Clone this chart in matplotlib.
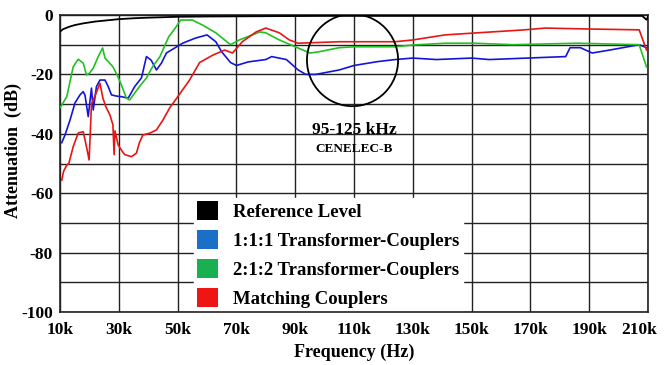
import matplotlib
matplotlib.use("Agg")
import matplotlib.pyplot as plt
from matplotlib.patches import Ellipse, Patch
from matplotlib.transforms import ScaledTranslation
import numpy as np

# ---- data (frequency in kHz, attenuation in dB) ----
ref_f = [10, 11, 13, 15, 18, 22, 26, 30, 35, 40, 50, 60, 80, 100, 150, 200, 208, 209.5, 210]
ref_v = [-5.6, -4.8, -4.0, -3.4, -2.8, -2.2, -1.8, -1.4, -1.1, -0.9, -0.6, -0.5, -0.4, -0.3, -0.3, -0.3, -0.3, -1.6, -0.6]

blue_f = [10.6, 11.7, 13.4, 15.1, 16.8, 17.9, 18.5, 19.6, 20.7, 21.3, 22.4, 23.6, 25.3, 26.4, 27.5, 29.2, 30.9, 33.2,
          35.4, 37.7, 39.4, 41, 42.8, 44.5, 46.2, 51.7, 56, 60, 63, 65, 68, 70, 74, 80, 82, 87, 91, 93.6, 97,
          105, 110, 118, 124, 130, 138, 150, 156, 169, 182, 183.5, 187, 191, 197, 207, 209.5]
blue_v = [-43, -40.4, -35.4, -29.6, -26.9, -25.8, -27, -34.2, -24.6, -32, -24.1, -21.9, -21.9, -24.1, -26.9, -27.3, -27.5, -28,
          -24.1, -21.2, -14, -15.2, -18.5, -16.2, -12.8, -9.5, -7.8, -6.7, -9, -12.4, -16, -17, -15.8, -15, -14, -15, -18.5, -20, -20,
          -18.5, -17, -15.7, -15, -14.5, -15, -14.5, -15, -14.5, -14, -11, -11, -12.8, -11.8, -10, -11]

green_f = [10, 12.3, 14.5, 16.2, 17.9, 19, 20, 21.3, 23, 24.5, 25.3, 26.4, 28, 29.7, 30.9, 32.6, 33.7, 35.4, 37, 39.4,
           41.5, 44, 46, 47, 49.5, 51, 55, 58.5, 63, 68, 71, 78, 80, 84.6, 90, 95, 98, 105, 110, 118,
           124, 130, 141, 151, 164, 186, 207, 209.5]
green_v = [-31.3, -27.5, -17.4, -14.9, -16.2, -20.2, -19.6, -17.9, -14, -11.1, -14.5, -15.7, -17.4, -20.8, -23.6, -28, -28.6, -26.3, -24.1, -21.2,
           -17.4, -14, -9.5, -7.3, -4, -1.7, -1.7, -3.4, -6, -10, -8.4, -5.7, -6, -8.4, -10.7, -12.8, -12.4, -11, -10.7, -10.7,
           -10.7, -10.1, -9.5, -9.5, -10, -9.5, -10, -17.5]

red_f = [10.6, 11.2, 12.3, 13.0, 14.5, 16.2, 17.9, 19, 19.9, 20.3, 20.7, 22, 23.6, 24.6, 25.6, 27, 28, 28.4, 28.7, 29.8,
         30.9, 32, 34.3, 36, 37, 38.2, 40.5, 42.8, 45, 47.3, 49.7, 54, 57.5, 62, 66, 68.7, 72, 76.7, 80, 84.6,
         88, 91, 105, 118, 124, 130, 141, 152, 168, 175, 189, 207, 209.5]
red_v = [-55.6, -52.7, -50.5, -50, -44.3, -39.7, -39.3, -44.3, -48.8, -39.7, -30, -27, -23, -28, -30.9, -33.7, -37, -47, -39, -43.8,
         -45.5, -47, -47.7, -46.5, -43, -40.4, -39.8, -38.7, -35.4, -31.3, -28, -22, -16, -13.5, -11.8, -12.8, -9, -5.7, -4.4, -6,
         -8.4, -9.5, -9, -9, -9, -8.4, -6.7, -6, -5, -4.4, -4.7, -5, -11.8]

x_ticks = [10, 30, 50, 70, 90, 110, 130, 150, 170, 190, 210]
x_labels = ["10k", "30k", "50k", "70k", "90k", "110k", "130k", "150k", "170k", "190k", "210k"]
y_ticks = [-100, -80, -60, -40, -20, 0]
legend_labels = ["Reference Level", "1:1:1 Transformer-Couplers", "2:1:2 Transformer-Couplers", "Matching Couplers"]

# ---- styling ----
serif = ["Liberation Serif", "DejaVu Serif"]
plt.rcParams["font.family"] = serif
plt.rcParams["font.weight"] = "bold"
plt.rcParams["axes.unicode_minus"] = False

fig = plt.figure(figsize=(6.64, 3.65), dpi=100)
ax = fig.add_axes([60 / 664, 1 - 312 / 365, 588 / 664, 297 / 365])

ax.plot(ref_f, ref_v, color="black", lw=1.3, zorder=3)
ax.plot(blue_f, blue_v, color="#1515d8", lw=1.2, zorder=3)
ax.plot(green_f, green_v, color="#22c022", lw=1.2, zorder=3)
ax.plot(red_f, red_v, color="#e81515", lw=1.2, zorder=3)

ax.set_xlim(10, 210)
ax.set_ylim(-100, 0)
ax.set_xticks(x_ticks)
ax.set_xticklabels(x_labels)
ax.set_yticks(y_ticks)
ax.set_yticks(np.arange(-90, 0, 20), minor=True)
ax.grid(True, which="both", color="#222222", lw=1.0, zorder=1)
ax.tick_params(axis="both", which="both", length=0, labelsize=12.5)
ax.tick_params(axis="x", pad=7)
ax.tick_params(axis="y", pad=5)
for lab in ax.get_xticklabels() + ax.get_yticklabels():
    lab.set_fontweight("bold")
# last x label sits slightly left, inside the figure
last = ax.get_xticklabels()[-1]
last.set_transform(last.get_transform() + ScaledTranslation(-6 / 72, 0, fig.dpi_scale_trans))
for s in ax.spines.values():
    s.set_color("#222222")
    s.set_linewidth(1.2)

ax.set_xlabel("Frequency (Hz)", fontsize=13, fontweight="bold", labelpad=4)
ax.set_ylabel("Attenuation  (dB)", fontsize=13, fontweight="bold")
ax.yaxis.set_label_coords(-0.065, 0.545)

# CENELEC-B annotation
ax.add_patch(Ellipse((109.5, -15.2), 31, 31, fill=False, edgecolor="black", lw=1.3, zorder=4))
ax.text(110, -38.7, "95-125 kHz", ha="center", va="center", fontsize=12.5, fontweight="bold", zorder=5)
ax.text(110, -45, "CENELEC-B", ha="center", va="center", fontsize=9.5, fontweight="bold", zorder=5)

handles = [Patch(facecolor=c, edgecolor="none") for c in ["black", "#1a6fc8", "#18b050", "#f01515"]]
leg = ax.legend(handles, legend_labels, loc="lower left", bbox_to_anchor=(0.212, -0.027),
                frameon=True, fancybox=False, framealpha=1, edgecolor="white",
                handlelength=1.15, handleheight=1.15, handletextpad=0.8,
                labelspacing=0.5, borderpad=0.15, prop={"weight": "bold", "size": 13.5})
leg.set_zorder(2)

fig.savefig("out.png", dpi=100)
